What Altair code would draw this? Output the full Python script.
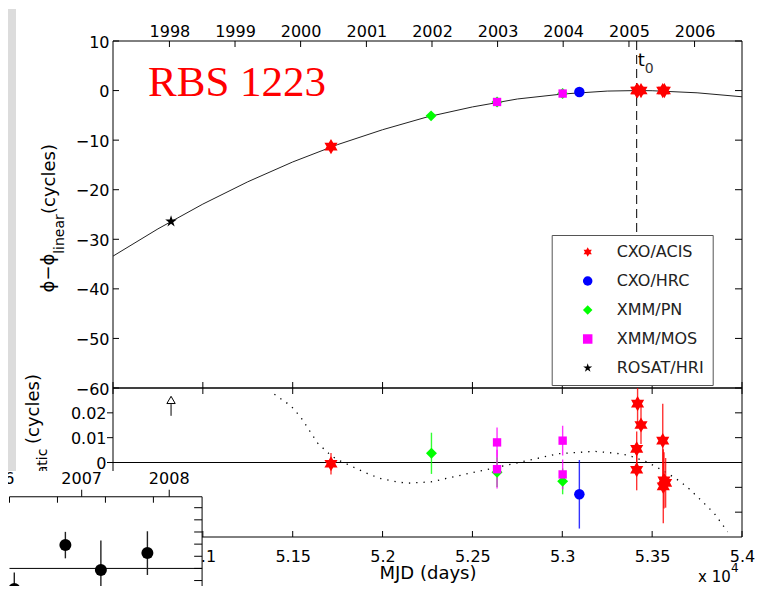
import altair as alt
import pandas as pd

# ---------------- instruments (legend categories) and marker styles ----------------
instruments = ["CXO/ACIS", "CXO/HRC", "XMM/PN", "XMM/MOS", "ROSAT/HRI"]
inst_colors = ["#ff0000", "#0000ff", "#00ff00", "#ff00ff", "#000000"]
HEXAGRAM = ("M0,-1L0.289,-0.5L0.866,-0.5L0.577,0L0.866,0.5L0.289,0.5"
            "L0,1L-0.289,0.5L-0.866,0.5L-0.577,0L-0.866,-0.5L-0.289,-0.5Z")
STAR5 = ("M0,-1L0.225,-0.309L0.951,-0.309L0.363,0.118L0.588,0.809"
         "L0,0.382L-0.588,0.809L-0.363,0.118L-0.951,-0.309L-0.225,-0.309Z")
inst_shapes = [HEXAGRAM, "circle", "diamond", "square", STAR5]
inst_marker_size = [230, 110, 120, 70, 150]

# ---------------- top panel: phase minus linear ephemeris ----------------
curve_mjd = [50500, 50750, 51000, 51250, 51500, 51750, 52000, 52250, 52500,
             52750, 53000, 53250, 53414, 53500, 53750, 54000]
curve_phi = [-33.4, -27.9, -22.9, -18.4, -14.4, -10.9, -7.9, -5.3, -3.3,
             -1.7, -0.7, -0.1, 0.0, -0.03, -0.45, -1.25]

obs_mjd = [50823, 51713, 52270, 52637, 52637, 53002, 53002, 53095,
           53414, 53419, 53438, 53559, 53568]
obs_phi = [-26.4, -11.3, -5.1, -2.3, -2.3, -0.6, -0.6, -0.3,
           0.0, 0.0, 0.0, 0.0, 0.0]
obs_inst = ["ROSAT/HRI", "CXO/ACIS", "XMM/PN", "XMM/PN", "XMM/MOS", "XMM/PN",
            "XMM/MOS", "CXO/HRC", "CXO/ACIS", "CXO/ACIS", "CXO/ACIS",
            "CXO/ACIS", "CXO/ACIS"]
t0_mjd = 53414

# ---------------- bottom panel: residuals ----------------
res_mjd = [51713, 52272, 52637, 53002, 52637, 52637, 53002, 53002, 53095,
           53419, 53438, 53414, 53414, 53559, 53566, 53562, 53575]
res_val = [-0.0005, 0.0037, -0.0039, -0.0076, 0.0081, -0.0027, 0.0088, -0.0048,
           -0.0128, 0.0237, 0.0151, 0.0055, -0.0029, 0.0088, -0.0072, -0.0096, -0.0082]
res_err = [0.0043, 0.0083, 0.0060, 0.0052, 0.0060, 0.0078, 0.0060, 0.0060,
           0.0138, 0.0090, 0.0077, 0.0070, 0.0083, 0.0149, 0.0113, 0.0149, 0.0100]
res_inst = ["CXO/ACIS", "XMM/PN", "XMM/PN", "XMM/PN", "XMM/MOS", "XMM/MOS",
            "XMM/MOS", "XMM/MOS", "CXO/HRC", "CXO/ACIS", "CXO/ACIS", "CXO/ACIS",
            "CXO/ACIS", "CXO/ACIS", "CXO/ACIS", "CXO/ACIS", "CXO/ACIS"]

model_mjd = [51398, 51490, 51546, 51639, 51713, 51750, 51917, 51991, 52084,
             52140, 52270, 52474, 52641, 52808, 52974, 53178, 53299, 53364,
             53466, 53531, 53596, 53661, 53707, 53772, 53846, 53920]
model_val = [0.0275, 0.0228, 0.0181, 0.0078, 0.0028, 0.0011, -0.0045, -0.0065,
             -0.0079, -0.0083, -0.0078, -0.0045, -0.0019, 0.0008, 0.0035, 0.0045,
             0.0037, 0.0030, 0.0004, -0.0021, -0.0048, -0.0079, -0.0107, -0.0152,
             -0.0205, -0.0279]

rosat_mjd = [50823]
rosat_lo = [0.0188]
rosat_hi = [0.0235]
rosat_head = [0.0252]

# ---------------- axis ticks / labels ----------------
year_labels = ["1998", "1999", "2000", "2001", "2002", "2003", "2004", "2005", "2006"]
year_mjd = [50814, 51179, 51544, 51910, 52275, 52640, 53005, 53371, 53736]
mjd_ticks = [50500, 51000, 51500, 52000, 52500, 53000, 53500, 54000]
mjd_labelled = [51000, 51500, 52000, 52500, 53000, 53500, 54000]
phi_ticks = [-60, -50, -40, -30, -20, -10, 0, 10]
res_ticks = [-0.02, -0.01, 0, 0.01, 0.02]
res_labelled = [0, 0.01, 0.02]

# ---------------- overlapping inset (fragment of another figure) ----------------
inset_mjd = [53820, 54033, 54181, 54375]
inset_val = [-0.0169, 0.0192, -0.0013, 0.0126]
inset_err = [0.0136, 0.0109, 0.0242, 0.0180]
inset_year_labels = ["2006", "2007", "2008"]
inset_year_mjd = [53736, 54101, 54466]
inset_mjd_ticks = [53800, 54000, 54200, 54400]
inset_val_ticks = [-0.02, -0.01, 0, 0.01, 0.02, 0.03, 0.04, 0.05]

# ======================================================================
W, H_TOP, H_BOT = 629, 347, 149
X0, X1 = 50500, 54000
FONT = "DejaVu Sans"

xs = alt.Scale(domain=[X0, X1], nice=False, zero=False)
ys_top = alt.Scale(domain=[-60, 10], nice=False, zero=False)
ys_bot = alt.Scale(domain=[-0.03, 0.03], nice=False, zero=False)
color_scale = alt.Scale(domain=instruments, range=inst_colors)
shape_scale = alt.Scale(domain=instruments, range=inst_shapes)
size_of = dict(zip(instruments, inst_marker_size))

year_expr = ("[" + ",".join(f"'{y}'" for y in year_labels) + "][indexof(["
             + ",".join(str(m) for m in year_mjd) + "], datum.value)]")

common = dict(ticks=False, tickSize=0, domain=False, grid=False,
              labelFlush=False, labelOverlap=False)
x_top_axis = alt.Axis(orient="top", values=year_mjd, labelExpr=year_expr,
                      title=None, labelPadding=2, **common)
y_top_axis = alt.Axis(orient="left", values=phi_ticks, title=None,
                      labelPadding=4, labelOffset=1, **common)
x_bot_axis = alt.Axis(orient="bottom", values=mjd_labelled,
                      labelExpr="format(datum.value / 10000, '.3~g')",
                      title="MJD (days)", labelPadding=11, titlePadding=0, **common)
y_bot_axis = alt.Axis(orient="left", values=res_labelled, format="~g", title=None,
                      labelPadding=7, labelOffset=1, **common)


def TX(f):
    return alt.X(f"{f}:Q", scale=xs, axis=x_top_axis)


def TY(f):
    return alt.Y(f"{f}:Q", scale=ys_top, axis=y_top_axis)


def BX(f):
    return alt.X(f"{f}:Q", scale=xs, axis=x_bot_axis)


def BY(f):
    return alt.Y(f"{f}:Q", scale=ys_bot, axis=y_bot_axis)


one = pd.DataFrame({"k": [0]})


def txt(s, x, y, **kw):
    return alt.Chart(pd.DataFrame({"s": [s]})).mark_text(font=FONT, color="black", **kw).encode(
        text="s:N", x=alt.value(x), y=alt.value(y))


def hticks(vals, yenc, a, b):
    return alt.Chart(pd.DataFrame({"v": vals})).mark_rule(color="black", strokeWidth=1).encode(
        y=yenc("v"), x=alt.value(a), x2=alt.value(b))


def vticks(vals, xenc, a, b):
    return alt.Chart(pd.DataFrame({"v": vals})).mark_rule(color="black", strokeWidth=1).encode(
        x=xenc("v"), y=alt.value(a), y2=alt.value(b))


legend = alt.Legend(orient="none", legendX=438.7, legendY=194, title=None,
                    padding=9, symbolOffset=19, labelOffset=21, rowPadding=13,
                    labelFont=FONT, labelFontSize=16, labelColor="#222",
                    strokeColor="#555", fillColor="white", symbolSize=90,
                    symbolStrokeWidth=0, labelLimit=300,
                    labelExpr="datum.label + '     '")

# ---------------- top panel ----------------
strip = alt.Chart(one).mark_rect(color="#dcdcdc").encode(
    x=alt.value(-150), x2=alt.value(-97), y=alt.value(-32), y2=alt.value(431))

frame_top = pd.DataFrame({"x": [X0, X0, X0, X1], "x2": [X1, X1, X0, X1],
                          "y": [10, -60, -60, -60], "y2": [10, -60, 10, 10]})
top_frame = alt.Chart(frame_top).mark_rule(color="black", strokeWidth=1).encode(
    x=TX("x"), x2="x2:Q", y=TY("y"), y2="y2:Q")

curve = alt.Chart(pd.DataFrame({"mjd": curve_mjd, "phi": curve_phi})).mark_line(
    color="#222", strokeWidth=1).encode(x=TX("mjd"), y=TY("phi"))

t0_line = alt.Chart(pd.DataFrame({"t": [t0_mjd], "a": [10], "b": [-60]})).mark_rule(
    color="black", strokeWidth=1, strokeDash=[9, 5]).encode(x=TX("t"), y=TY("a"), y2="b:Q")

obs = pd.DataFrame({"mjd": obs_mjd, "phi": obs_phi, "inst": obs_inst})
obs["sz"] = obs["inst"].map(size_of)
top_pts = alt.Chart(obs).mark_point(filled=True, opacity=1, strokeWidth=0).encode(
    x=TX("mjd"), y=TY("phi"),
    color=alt.Color("inst:N", scale=color_scale, legend=legend),
    shape=alt.Shape("inst:N", scale=shape_scale, legend=legend),
    size=alt.Size("sz:Q", scale=None, legend=None))

rbs = alt.Chart(pd.DataFrame({"x": [50695], "y": [-1.1], "s": ["RBS 1223"]})).mark_text(
    font="Liberation Serif", fontSize=43, color="#ff0000", align="left",
    baseline="alphabetic").encode(x=TX("x"), y=TY("y"), text="s:N")
t_lab = alt.Chart(pd.DataFrame({"x": [t0_mjd], "y": [4.9], "s": ["t"]})).mark_text(
    font=FONT, fontSize=18, color="black", align="left", baseline="alphabetic", dx=1).encode(
    x=TX("x"), y=TY("y"), text="s:N")
t_sub = alt.Chart(pd.DataFrame({"x": [t0_mjd], "y": [3.6], "s": ["0"]})).mark_text(
    font=FONT, fontSize=14, color="#333", align="left", baseline="alphabetic", dx=8).encode(
    x=TX("x"), y=TY("y"), text="s:N")

top = alt.layer(
    strip, top_frame,
    hticks(phi_ticks, TY, 0, 6), hticks(phi_ticks, TY, W - 7, W),
    vticks(year_mjd, TX, 0, 6), vticks(mjd_ticks, TX, H_TOP - 6, H_TOP),
    curve, t0_line, top_pts, rbs, t_lab, t_sub,
    txt("(cycles)", -63, 138, angle=270, fontSize=18),
    txt("linear", -53, 193, angle=270, fontSize=14),
    txt("\u03d5\u2212\u03d5", -64, 232, angle=270, fontSize=18),
).properties(width=W, height=H_TOP)

# ---------------- bottom panel ----------------
frame_bot = pd.DataFrame({"x": [X0, X0, X0, X1], "x2": [X1, X1, X0, X1],
                          "y": [0.03, -0.03, -0.03, -0.03], "y2": [0.03, -0.03, 0.03, 0.03]})
bot_frame = alt.Chart(frame_bot).mark_rule(color="black", strokeWidth=1).encode(
    x=BX("x"), x2="x2:Q", y=BY("y"), y2="y2:Q")
zero_line = alt.Chart(pd.DataFrame({"x": [X0], "x2": [X1], "y": [0]})).mark_rule(
    color="black", strokeWidth=1).encode(x=BX("x"), x2="x2:Q", y=BY("y"))

model = alt.Chart(pd.DataFrame({"mjd": model_mjd, "v": model_val})).mark_line(
    color="black", strokeWidth=1.3, strokeDash=[1.3, 6], clip=True).encode(
    x=BX("mjd"), y=BY("v"))

res = pd.DataFrame({"mjd": res_mjd, "v": res_val, "e": res_err, "inst": res_inst})
res["lo"] = res["v"] - res["e"]
res["hi"] = res["v"] + res["e"]
res["sz"] = res["inst"].map(size_of)
err_bars = alt.Chart(res).mark_rule(strokeWidth=1.4, opacity=0.8, clip=True).encode(
    x=BX("mjd"), y=BY("lo"), y2="hi:Q",
    color=alt.Color("inst:N", scale=color_scale, legend=None))
res_pts = alt.Chart(res).mark_point(filled=True, opacity=1, strokeWidth=0).encode(
    x=BX("mjd"), y=BY("v"),
    color=alt.Color("inst:N", scale=color_scale, legend=None),
    shape=alt.Shape("inst:N", scale=shape_scale, legend=None),
    size=alt.Size("sz:Q", scale=None, legend=None))

ros = pd.DataFrame({"mjd": rosat_mjd, "lo": rosat_lo, "hi": rosat_hi, "h": rosat_head})
ros_stem = alt.Chart(ros).mark_rule(color="black", strokeWidth=1).encode(
    x=BX("mjd"), y=BY("lo"), y2="hi:Q")
ros_head = alt.Chart(ros).mark_point(shape="triangle-up", fill="white", stroke="black",
                                     strokeWidth=1, size=70, opacity=1, filled=False).encode(
    x=BX("mjd"), y=BY("h"))

bottom_main = alt.layer(
    bot_frame,
    hticks(res_ticks, BY, -6, 0), hticks(res_ticks, BY, W - 7, W),
    vticks(mjd_ticks, BX, 0, 6), vticks(mjd_ticks, BX, H_BOT - 6, H_BOT),
    zero_line, model, err_bars, res_pts, ros_stem, ros_head,
    txt("(cycles)", -79, 21, angle=270, fontSize=18),
    txt("quadratic", -70, 94, angle=270, fontSize=14),
    txt("x 10", 585, 194, fontSize=15, align="left", baseline="alphabetic"),
    txt("4", 618, 184, fontSize=12, align="left", baseline="alphabetic"),
)

# ---------------- inset overlapping the lower-left corner ----------------
ixs = alt.Scale(domain=[53800, 54400], range=[-103.5, 40.4], nice=False, zero=False)
iys = alt.Scale(domain=[-0.02, 0.05], range=[204.7, 119.7], nice=False, zero=False)
I_TOP, I_RIGHT, I_BOTTOM = 0.059, 54603, -0.034


def IX(f):
    return alt.X(f"{f}:Q", scale=ixs, axis=None)


def IY(f):
    return alt.Y(f"{f}:Q", scale=iys, axis=None)


inset_bg = alt.Chart(one).mark_rect(color="white").encode(
    x=alt.value(-150), x2=alt.value(89), y=alt.value(83), y2=alt.value(223))
inset_lines = alt.Chart(pd.DataFrame({
    "x": [53800, I_RIGHT, 53800], "x2": [I_RIGHT, I_RIGHT, I_RIGHT],
    "y": [I_TOP, I_BOTTOM, 0.0], "y2": [I_TOP, I_TOP, 0.0]})).mark_rule(
    color="black", strokeWidth=1).encode(x=IX("x"), x2="x2:Q", y=IY("y"), y2="y2:Q")
inset_top_ticks = alt.Chart(pd.DataFrame({"v": inset_mjd_ticks, "a": I_TOP, "b": I_TOP - 0.0049})).mark_rule(
    color="black").encode(x=IX("v"), y=IY("a"), y2="b:Q")
inset_year_ticks = alt.Chart(pd.DataFrame({"v": inset_year_mjd, "a": I_TOP, "b": I_TOP + 0.0058})).mark_rule(
    color="black").encode(x=IX("v"), y=IY("a"), y2="b:Q")
inset_right_ticks = alt.Chart(pd.DataFrame({"v": inset_val_ticks, "a": I_RIGHT - 33, "b": I_RIGHT})).mark_rule(
    color="black").encode(y=IY("v"), x=IX("a"), x2="b:Q")
inset_years = alt.Chart(pd.DataFrame({"x": inset_year_mjd, "y": 0.0694, "s": inset_year_labels})).mark_text(
    font=FONT, fontSize=16, color="black", align="center", baseline="alphabetic").encode(
    x=IX("x"), y=IY("y"), text="s:N")
ins = pd.DataFrame({"mjd": inset_mjd, "v": inset_val, "e": inset_err})
ins["lo"] = ins["v"] - ins["e"]
ins["hi"] = ins["v"] + ins["e"]
inset_err_bars = alt.Chart(ins).mark_rule(color="#222", strokeWidth=1.4).encode(
    x=IX("mjd"), y=IY("lo"), y2="hi:Q")
inset_pts = alt.Chart(ins).mark_circle(color="black", size=144, opacity=1).encode(
    x=IX("mjd"), y=IY("v"))

inset = alt.layer(inset_bg, inset_lines, inset_top_ticks, inset_year_ticks,
                  inset_right_ticks, inset_years, inset_err_bars, inset_pts)

bottom = alt.layer(bottom_main, inset).resolve_scale(
    x="independent", y="independent").properties(width=W, height=H_BOT)

chart = alt.vconcat(top, bottom, spacing=0, bounds="flush").resolve_scale(
    color="independent", shape="independent"
).properties(
    padding={"left": -46, "top": 0, "right": 0, "bottom": -26}
).configure_view(stroke="transparent").configure_axis(
    labelFont=FONT, labelFontSize=16, labelColor="black",
    titleFont=FONT, titleFontSize=18, titleFontWeight="normal", titleColor="black")

chart.save("out.html", embed_options={"renderer": "svg", "actions": False})
